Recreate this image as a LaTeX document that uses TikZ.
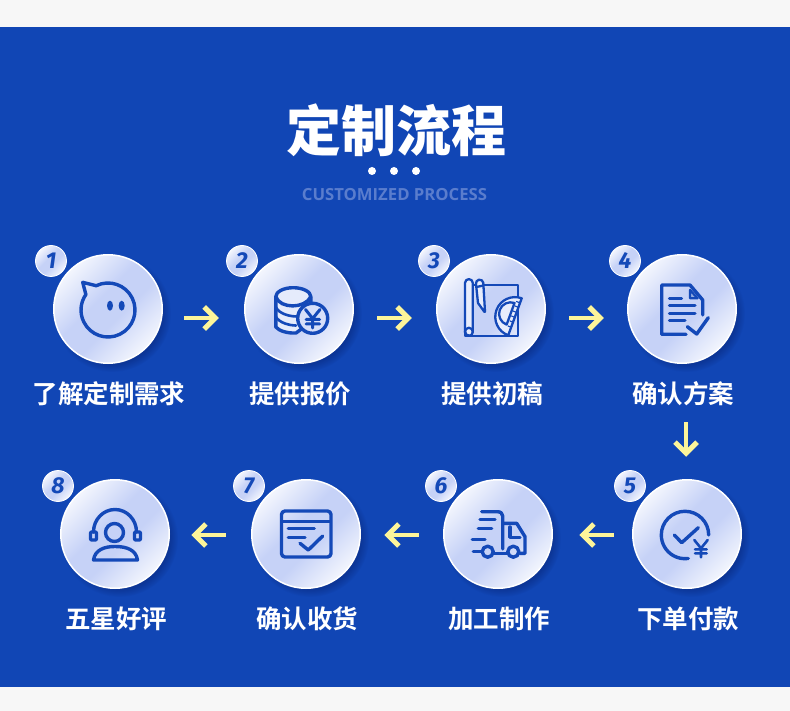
\documentclass[tikz,border=0pt]{standalone}
\usepackage{fontspec}
\usetikzlibrary{arrows.meta,positioning,shadows,fadings}
\newfontfamily\cjk[BoldFont={Noto Sans CJK SC Bold}]{Noto Sans CJK SC}
\newfontfamily\cjkheavy{Noto Sans CJK SC Black}
\newfontfamily\latn{Open Sans}
\newfontfamily\digit{Fira Sans}
\definecolor{pageGray}{RGB}{247,247,247}
\definecolor{panelBlue}{RGB}{17,70,181}
\definecolor{shadowBlue}{RGB}{8,40,125}
\definecolor{iconBlue}{RGB}{20,73,184}
\definecolor{softBlue}{RGB}{198,210,247}
\definecolor{subBlue}{RGB}{90,125,205}
\definecolor{arrowYellow}{RGB}{253,245,154}
\pgfdeclareverticalshading{discband}{100bp}{color(0bp)=(white);color(20bp)=(white);color(44bp)=(softBlue);color(56bp)=(softBlue);color(80bp)=(white);color(100bp)=(white)}
\begin{document}
\begin{tikzpicture}[x=1pt,y=-1pt,
        stepdisc/.style={circle,minimum size=108.5pt,inner sep=0pt,outer sep=0pt,draw=white,line width=1.5pt,
          shade,shading=discband,shading angle=45,
          circular drop shadow={shadow xshift=4pt,shadow yshift=-4pt,shadow scale=1.08,opacity=0.55,fill=shadowBlue}},
        badge/.style={circle,minimum size=31pt,inner sep=0pt,outer sep=0pt,draw=white,line width=0.8pt,
          shade,shading=discband,shading angle=45,
          text=iconBlue,font=\digit\fontsize{23}{23}\selectfont\bfseries\itshape},
        steplabel/.style={inner sep=0pt,outer sep=0pt,text=white,font=\cjk\fontsize{25.5}{25.5}\selectfont\bfseries},
        flowarrow/.style={draw=arrowYellow,line width=3.8pt,-{Straight Barb[length=11pt,width=22pt,line width=5pt]}},
        icon/.style={draw=iconBlue,line width=3.4pt,line cap=round,line join=round},
        thinicon/.style={draw=iconBlue,line width=2.3pt,line cap=round,line join=round}
      ]
        \useasboundingbox (0,0) rectangle (790,711);
        \fill[pageGray] (0,0) rectangle (790,711);
        \fill[panelBlue] (0,27) rectangle (790,687);

        \node[inner sep=0pt,text=white,font=\cjkheavy\fontsize{55}{55}\selectfont] (title) at (396,130) {定制流程};
        \fill[white] (372,171) circle (4) (394,171) circle (4) (416,171) circle (4);
        \node[inner sep=0pt,text=subBlue,font=\latn\fontsize{16.7}{16.7}\selectfont\bfseries] (subtitle) at (394.5,194.5) {CUSTOMIZED PROCESS};

        \node[stepdisc] (step1) at (108,309) {};
        \node[stepdisc,right=82.5pt of step1] (step2) {};
        \node[stepdisc,right=83.5pt of step2] (step3) {};
        \node[stepdisc,right=82.5pt of step3] (step4) {};
        \node[stepdisc] (step5) at (687,534) {};
        \node[stepdisc,left=80.5pt of step5] (step6) {};
        \node[stepdisc,left=83.5pt of step6] (step7) {};
        \node[stepdisc,left=82.5pt of step7] (step8) {};

        \foreach \n in {1,...,8}
          \node[badge] (num\n) at ([shift={(-57pt,48pt)}]step\n.center) {\n};

        \node[steplabel,below=18.5pt of step1,xshift=1pt] (text1) {了解定制需求};
        \node[steplabel,below=18.5pt of step2,xshift=1pt] (text2) {提供报价};
        \node[steplabel,below=18.5pt of step3,xshift=1pt] (text3) {提供初稿};
        \node[steplabel,below=18.5pt of step4,xshift=1pt] (text4) {确认方案};
        \node[steplabel,below=18.5pt of step5,xshift=1pt] (text5) {下单付款};
        \node[steplabel,below=18.5pt of step6,xshift=1pt] (text6) {加工制作};
        \node[steplabel,below=18.5pt of step7,xshift=1pt] (text7) {确认收货};
        \node[steplabel,below=18.5pt of step8,xshift=1pt] (text8) {五星好评};

        \draw[flowarrow] ([shift={(22pt,-9pt)}]step1.east) -- ([shift={(-26pt,-9pt)}]step2.west);
        \draw[flowarrow] ([shift={(24pt,-9pt)}]step2.east) -- ([shift={(-25pt,-9pt)}]step3.west);
        \draw[flowarrow] ([shift={(24pt,-9pt)}]step3.east) -- ([shift={(-24pt,-9pt)}]step4.west);
        \draw[flowarrow] ([shift={(4pt,-59pt)}]step4.south) -- ([shift={(-1pt,23pt)}]step5.north);
        \draw[flowarrow] ([shift={(-19pt,-1pt)}]step5.west) -- ([shift={(27pt,-1pt)}]step6.east);
        \draw[flowarrow] ([shift={(-25pt,-1pt)}]step6.west) -- ([shift={(24pt,-1pt)}]step7.east);
        \draw[flowarrow] ([shift={(-26pt,-1pt)}]step7.west) -- ([shift={(22pt,-1pt)}]step8.east);

        \draw[icon] (108,310) ++(-116:27) arc (-116:215:27) -- (82.7,282.3) -- cycle;
        \fill[iconBlue] (110,305.7) ellipse (3 and 5) (121.7,305.7) ellipse (3 and 5);

        \draw[icon,fill=softBlue!45] (275.8,296.7) arc (180:360:17.5 and 9) -- (310.8,322) -- (296,333) .. controls (288,333.5) and (279,331) .. (275.8,327) -- cycle;
        \draw[icon] (275.8,296.7) .. controls (280,309) and (305,309) .. (310.8,296.7);
        \draw[icon,line width=2.6pt] (275.8,307) .. controls (279,314) and (290,316.5) .. (297,316.5);
        \draw[icon,line width=2.6pt] (275.8,316.5) .. controls (279,323) and (290,325.5) .. (296,325.5);
        \draw[icon,fill=softBlue!70] (312.7,318.3) circle (15);
        \draw[thinicon,line width=3pt] (305.5,309.5) -- (312.7,318.5) -- (320,309.5) (312.7,318.5) -- (312.7,328) (306,319.5) -- (319.5,319.5) (306,324) -- (319.5,324);

        \draw[thinicon] (465,285) rectangle (518.3,336);
        \draw[thinicon,fill=softBlue!40] (465,283) arc (180:360:3.9) -- (472.8,332) arc (0:180:3.9) -- cycle;
        \draw[thinicon] (472.8,331.7) arc (0:-270:3.9);
        \draw[thinicon,fill=softBlue!40] (476,284) arc (170:350:3.7 and 3.7) -- (485,311.7) -- (484.5,312) -- (478,303) -- cycle;
        \draw[thinicon] (476.5,287) -- (483.5,285.5);
        \draw[thinicon,fill=softBlue!40] (521.7,298.3) arc (-70:-250:19.7) -- cycle;
        \draw[thinicon] (514.5,303) arc (-70:-250:11.5) -- cycle;
        \draw[thinicon,line width=1.2pt] (519,302.5) -- (516.5,301.5) (517.5,307) -- (515,306) (515.5,312) -- (513,311) (514,317) -- (511.5,316) (512.5,322) -- (510,321) (510.5,327) -- (508,326);

        \draw[icon] (686,334.3) -- (661.7,334.3) -- (661.7,285) -- (690,285) -- (702.7,300) -- (702.7,315);
        \draw[thinicon,fill=iconBlue!45] (690,290) -- (690,298.3) -- (697.5,298.3) -- cycle;
        \draw[icon,line width=3pt] (669.3,298.3) -- (681.7,298.3) (669.3,306) -- (695,306) (669.3,314) -- (695,314) (669.3,321) -- (685,321);
        \draw[icon] (687.3,326.7) -- (696.7,334) -- (708.3,317.7);

        \draw[icon] (708.7,535) arc (0:-278:23.7);
        \draw[icon] (674.3,535) -- (681.7,542.7) -- (698.3,527.7);
        \draw[thinicon,line width=2.6pt] (694.3,540) -- (701,548.3) -- (707.7,540) (701,548.3) -- (701,557.3) (695,549.3) -- (706.7,549.3) (695,553.3) -- (706.7,553.3);

        \draw[icon] (481.7,511.7) -- (497,511.7) .. controls (500.5,511.7) and (502.7,513) .. (502.7,516) -- (502.7,549);
        \draw[icon] (502.7,523.3) -- (516.7,523.3) -- (525,536.7) -- (525,553.3) -- (519.5,553.3);
        \draw[icon] (510,527) -- (510,537.3) -- (520,537.3);
        \draw[icon] (487.7,551.7) circle (5.5) (513.3,551.7) circle (5.5);
        \draw[icon] (494,553.3) -- (507,553.3);
        \draw[icon] (480,519.3) -- (495,519.3) (478.3,528.3) -- (491.7,528.3) (472.3,539.3) -- (485,539.3) (473.3,551.7) -- (481,551.7);

        \draw[icon,rounded corners=3.5pt] (281.5,511) rectangle (331,557);
        \draw[icon] (282.5,521.7) -- (330,521.7);
        \draw[icon] (288.3,528.3) -- (314.3,528.3) (288.3,537.3) -- (305,537.3);
        \draw[icon] (300,543.3) -- (308.3,550) -- (322.7,536);

        \draw[icon] (114.5,532.5) circle (9);
        \draw[icon] (93.5,532) arc (180:360:21.5 and 22.5);
        \draw[icon,rounded corners=1pt] (90.5,532) rectangle (96.5,540);
        \draw[icon,rounded corners=1pt] (134.5,532) rectangle (140.5,540);
        \draw[icon] (93.5,560) .. controls (95,550) and (104,546.5) .. (115,546.5) .. controls (127,546.5) and (136,550) .. (137.5,560) -- cycle;
      \end{tikzpicture}
\end{document}
